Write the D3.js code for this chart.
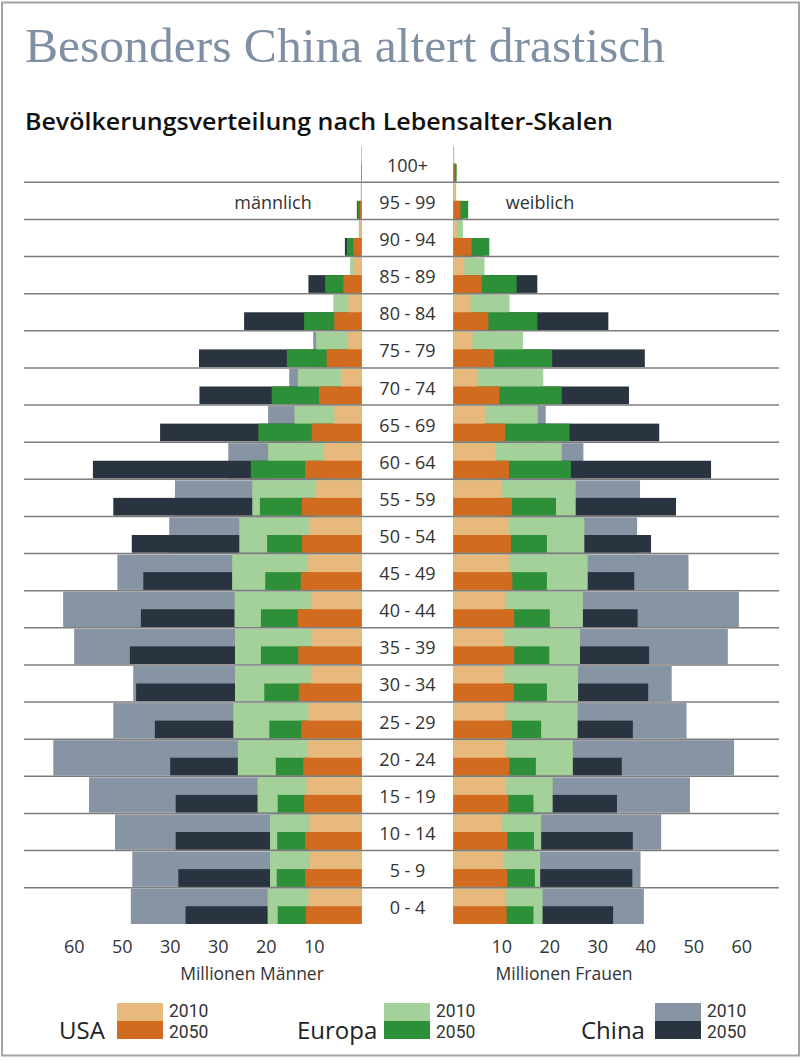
<!DOCTYPE html>
<html><head><meta charset="utf-8">
<script src="https://cdn.jsdelivr.net/npm/d3@7"></script>
<style>body{margin:0;background:#fff}svg{display:block}</style>
</head><body><svg id="chart" width="802" height="1063"></svg>
<script>
// ---- data (millions), ordered top (100+) to bottom (0 - 4) ----
const ageGroups = ["100+","95 - 99","90 - 94","85 - 89","80 - 84","75 - 79","70 - 74","65 - 69","60 - 64","55 - 59","50 - 54","45 - 49","40 - 44","35 - 39","30 - 34","25 - 29","20 - 24","15 - 19","10 - 14","5 - 9","0 - 4"];

const usaMale2010   = [0.1,0.1,0.4,1.75,2.8,2.9,4.2,5.7,7.9,9.5,10.9,11.25,10.6,10.4,10.6,11.1,11.3,11.5,10.8,10.8,11.1];
const usaMale2050   = [0.1,0.35,1.75,3.8,5.7,7.3,8.9,10.4,11.8,12.5,12.4,12.7,13.3,13.2,13.1,12.6,12.2,12.0,11.8,11.8,11.6];
const euMale2010    = [0.1,0.2,0.6,2.4,5.9,9.5,13.3,14.0,19.5,22.8,25.5,27.0,26.5,26.4,26.4,26.75,25.8,21.7,19.1,19.1,19.6];
const euMale2050    = [0.1,0.9,3.1,7.6,12.0,15.6,18.75,21.5,23.1,21.2,19.7,20.1,21.0,21.0,20.3,19.25,17.9,17.5,17.6,17.7,17.5];
const chinaMale2010 = [0.1,0.15,0.5,1.8,4.3,10.1,15.1,19.5,27.8,38.9,40.1,50.9,62.2,59.9,47.6,51.75,64.25,56.8,51.4,47.8,48.1];
const chinaMale2050 = [0.1,1.0,3.5,11.1,24.5,33.9,33.8,42.0,56.0,51.75,47.9,45.5,46.0,48.3,47.0,43.1,39.9,38.75,38.75,38.2,36.7];

const usaFemale2010   = [0.1,0.3,0.7,2.3,3.6,4.0,5.0,6.6,8.8,10.2,11.5,11.7,10.8,10.6,10.6,10.8,11.0,11.0,10.2,10.4,10.8];
const usaFemale2050   = [0.3,1.5,3.8,5.9,7.3,8.5,9.6,10.8,11.6,12.2,12.0,12.3,12.7,12.7,12.6,12.2,11.7,11.5,11.25,11.25,11.1];
const euFemale2010    = [0.2,0.6,2.0,6.5,11.7,14.5,18.75,17.6,22.6,25.5,27.3,28.0,27.0,26.4,26.0,25.9,24.9,20.7,18.3,18.1,18.6];
const euFemale2050    = [0.7,3.1,7.5,13.2,17.5,20.6,22.6,24.2,24.5,21.4,19.5,19.5,20.1,20.0,19.5,18.3,17.2,16.7,16.8,17.0,16.7];
const chinaFemale2010 = [0.1,0.4,1.5,4.5,8.0,10.0,14.0,19.25,27.1,38.9,38.3,49.0,59.5,57.2,45.5,48.6,58.5,49.3,43.3,39.0,39.7];
const chinaFemale2050 = [0.5,2.0,6.5,17.5,32.3,39.9,36.6,42.9,53.7,46.4,41.2,37.7,38.4,40.8,40.6,37.4,35.1,34.1,37.4,37.3,33.3];

const tickValues = [10,20,30,40,50,60];
const tickLabelsLeft  = ["10","20","30","30","50","60"];
const tickLabelsRight = ["10","20","30","40","50","60"];
const countries = ["USA","Europa","China"];
const years = ["2010","2050"];

// ---- styles ----
const colors = {
  USA:    {"2010":"#e8b97d","2050":"#d06b20"},
  Europa: {"2010":"#a4d09a","2050":"#2e8f39"},
  China:  {"2010":"#8794a3","2050":"#2a3440"}
};
const sansFont = "'Open Sans', 'Noto Sans', sans-serif";
const legendFont = "Roboto, 'Open Sans', sans-serif";

const series = {
  male:   {USA:{"2010":usaMale2010,"2050":usaMale2050}, Europa:{"2010":euMale2010,"2050":euMale2050}, China:{"2010":chinaMale2010,"2050":chinaMale2050}},
  female: {USA:{"2010":usaFemale2010,"2050":usaFemale2050}, Europa:{"2010":euFemale2010,"2050":euFemale2050}, China:{"2010":chinaFemale2010,"2050":chinaFemale2050}}
};

const svg = d3.select("#chart");
svg.append("rect").attr("width",802).attr("height",1063).attr("fill","#fff");
svg.append("rect").attr("x",2).attr("y",2.5).attr("width",797).attr("height",1053)
  .attr("fill","none").attr("stroke","#a3a3a3").attr("stroke-width",2);

// titles
svg.append("text").attr("x",25).attr("y",62)
  .attr("font-family","'Liberation Serif','DejaVu Serif',serif").attr("font-size",48)
  .attr("fill","#7f90a4").attr("textLength",640).attr("lengthAdjust","spacingAndGlyphs")
  .text("Besonders China altert drastisch");
svg.append("text").attr("x",25).attr("y",130)
  .attr("font-family",sansFont).attr("font-weight",600).attr("font-size",22.5)
  .attr("fill","#111").attr("textLength",588).attr("lengthAdjust","spacingAndGlyphs")
  .text("Bevölkerungsverteilung nach Lebensalter-Skalen");

// scales
const y = d3.scaleBand().domain(ageGroups).range([145.2, 924.8]);
const bw = y.bandwidth();
const xL = d3.scaleLinear().domain([0,60]).range([361.7, 73.7]);
const xR = d3.scaleLinear().domain([0,60]).range([453.3, 741.3]);

// bars: overlapping from center, China behind, Europe, USA in front; 2010 full row, 2050 lower half
const gBars = svg.append("g");
const layerOrder = ["China","Europa","USA"];
[["male",xL],["female",xR]].forEach(([sex,x]) => {
  layerOrder.forEach(c => {
    years.forEach(yr => {
      const vals = series[sex][c][yr];
      gBars.append("g").selectAll("rect")
        .data(ageGroups.map((a,i) => ({a, v: vals[i]})))
        .join("rect")
        .attr("x", d => Math.min(x(0), x(d.v)))
        .attr("width", d => Math.abs(x(d.v) - x(0)))
        .attr("y", d => yr === "2010" ? y(d.a) + 1 : y(d.a) + bw * 0.5)
        .attr("height", yr === "2010" ? bw - 1.8 : bw * 0.5 - 0.8)
        .attr("fill", colors[c][yr]);
    });
  });
});

// grid lines between age rows
svg.append("g").selectAll("line").data(ageGroups.slice(1)).join("line")
  .attr("x1",24).attr("x2",779)
  .attr("y1", d => y(d)).attr("y2", d => y(d))
  .attr("stroke","#7d7d7d").attr("stroke-width",1.5);

// age labels
svg.append("g").selectAll("text").data(ageGroups).join("text")
  .attr("x",407.5).attr("y", d => y(d) + bw/2 + 1)
  .attr("text-anchor","middle").attr("dominant-baseline","central")
  .attr("font-family",sansFont).attr("font-size",18).attr("fill","#333")
  .text(d => d);

// sex labels
svg.append("text").attr("x",273).attr("y",209).attr("text-anchor","middle")
  .attr("font-family",sansFont).attr("font-size",18).attr("fill","#333").text("männlich");
svg.append("text").attr("x",540).attr("y",209).attr("text-anchor","middle")
  .attr("font-family",sansFont).attr("font-size",18).attr("fill","#333").text("weiblich");

// axes
function styleAxis(g){
  g.select(".domain").remove();
  g.attr("font-family",sansFont).attr("font-size",18).attr("color","#333");
}
const gL = svg.append("g").attr("transform","translate(0,940)")
  .call(d3.axisBottom(xL).tickValues(tickValues).tickFormat((d,i)=>tickLabelsLeft[i]).tickSize(0).tickPadding(0));
styleAxis(gL);
const gR = svg.append("g").attr("transform","translate(0,940)")
  .call(d3.axisBottom(xR).tickValues(tickValues).tickFormat((d,i)=>tickLabelsRight[i]).tickSize(0).tickPadding(0));
styleAxis(gR);

svg.append("text").attr("x",252).attr("y",980).attr("text-anchor","middle")
  .attr("font-family",sansFont).attr("font-size",17.5).attr("fill","#333").text("Millionen Männer");
svg.append("text").attr("x",564).attr("y",980).attr("text-anchor","middle")
  .attr("font-family",sansFont).attr("font-size",17.5).attr("fill","#333").text("Millionen Frauen");

// legend
const legendPos = {USA:{tx:59, sx:117}, Europa:{tx:297, sx:384}, China:{tx:581, sx:655}};
const gLeg = svg.append("g");
countries.forEach(c => {
  const p = legendPos[c];
  gLeg.append("text").attr("x",p.tx).attr("y",1039)
    .attr("font-family",sansFont).attr("font-size",24).attr("fill","#222").text(c);
  years.forEach((yr,i) => {
    gLeg.append("rect").attr("x",p.sx).attr("y",1003 + i*18).attr("width",46).attr("height",18)
      .attr("fill",colors[c][yr]);
    gLeg.append("text").attr("x",p.sx+52).attr("y",1016.5 + i*21.5)
      .attr("font-family",legendFont).attr("font-size",17.5).attr("fill","#333").text(yr);
  });
});
</script>
</body></html>
